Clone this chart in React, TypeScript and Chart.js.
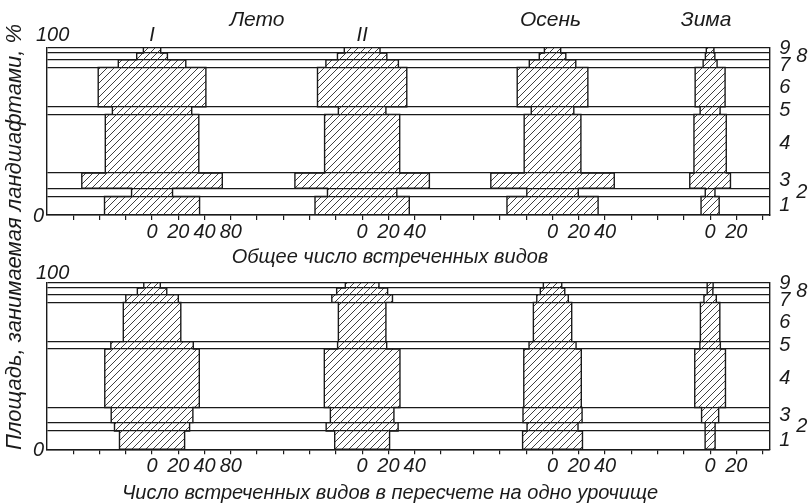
import React, { useEffect, useRef } from "react";
import { Chart, registerables } from "chart.js";

Chart.register(...registerables);

// ---------- data ----------
const bandNames = ["1", "2", "3", "4", "5", "6", "7", "8", "9"];
// share of area occupied by each landscape band, %
const bandShares = [11, 5, 9, 35, 4.5, 23.5, 4.6, 4, 3.4];

const seasonNames = ["I", "II", "Осень", "Зима"];
// axis value where each season's "0" tick sits
const seasonZero = [80, 240, 385, 505];

// total number of species met (top panel), bands 1..9
const totalI = [36.2, 15.6, 53.5, 35.6, 30.2, 41, 25.7, 11.7, 6.6];
const totalII = [35.9, 26.4, 51.2, 28.6, 18.1, 34, 27.6, 18.8, 13.6];
const totalAutumn = [34.7, 19.6, 47, 21.6, 16.2, 26.9, 17.7, 10.1, 6.2];
const totalWinter = [6.9, 3.7, 15.5, 12.3, 7.6, 11.4, 5.3, 3.6, 2.9];

// species per one urochishche (bottom panel), bands 1..9
const perI = [24.8, 28.6, 31.1, 36, 31.4, 21.9, 20, 11.2, 6.3];
const perII = [20.9, 27.4, 24.2, 28.8, 18.7, 18.1, 23.1, 19.4, 12.8];
const perAutumn = [22.8, 19.4, 22.5, 21.9, 17.9, 14.6, 12, 9.3, 7];
const perWinter = [3.8, 3.8, 6.5, 11.7, 7.8, 7.4, 4.7, 2.1, 2.3];

const xTickValues = [
  20, 40, 60, 80, 100, 120, 140, 160, 180, 200, 220, 240, 260, 280, 300,
  325, 345, 365, 385, 405, 425, 445, 465, 485, 505, 525, 545,
];
const labeledTickValues = [80, 100, 120, 140, 240, 260, 280, 385, 405, 425, 505, 525];
const labeledTickTexts = ["0", "20", "40", "80", "0", "20", "40", "0", "20", "40", "0", "20"];

const seasonTitles = ["Лето", "Осень", "Зима"];
const yTitle = "Площадь, занимаемая ландшафтами, %";
const topXTitle = "Общее число встреченных видов";
const bottomXTitle = "Число встреченных видов в пересчете на одно урочище";

// ---------- helpers ----------
const W = 809;
const H = 504;
const FONT_FAMILY = '"Liberation Sans", Arial, sans-serif';
const TEXT_COLOR = "#1a1a1a";
const LINE_COLOR = "#1a1a1a";

const boundaries: number[] = bandShares.reduce(
  (acc: number[], s) => {
    acc.push(+(acc[acc.length - 1] + s).toFixed(3));
    return acc;
  },
  [0]
);

function outline(center: number, half: number[]) {
  const pts: { x: number; y: number }[] = [];
  for (let i = 0; i < half.length; i++) {
    pts.push({ x: center - half[i], y: boundaries[i] });
    pts.push({ x: center - half[i], y: boundaries[i + 1] });
  }
  for (let i = half.length - 1; i >= 0; i--) {
    pts.push({ x: center + half[i], y: boundaries[i + 1] });
    pts.push({ x: center + half[i], y: boundaries[i] });
  }
  pts.push({ ...pts[0] });
  return pts;
}

function makeHatch() {
  const s = 7;
  const c = document.createElement("canvas");
  c.width = s;
  c.height = s;
  const g = c.getContext("2d")!;
  g.strokeStyle = "#2a2a2a";
  g.lineWidth = 0.9;
  g.beginPath();
  g.moveTo(0, s);
  g.lineTo(s, 0);
  g.moveTo(-1, 1);
  g.lineTo(1, -1);
  g.moveTo(s - 1, s + 1);
  g.lineTo(s + 1, s - 1);
  g.stroke();
  return g.createPattern(c, "repeat")!;
}

function font(size = 20) {
  return `italic ${size}px ${FONT_FAMILY}`;
}

type PanelOpts = {
  series: number[][];
  top: number;
  bottom: number;
  hundredDy: number;
  xTitle: string;
  xTitleY: number;
  showSeasonTitles: boolean;
  showYTitle: boolean;
};

function buildChart(canvas: HTMLCanvasElement, p: PanelOpts) {
  const hatch = makeHatch();
  const X_AXIS_H = 30;
  const datasets = p.series.map((half, i) => ({
    label: seasonNames[i],
    data: outline(seasonZero[i], half),
    showLine: true,
    borderColor: LINE_COLOR,
    borderWidth: 1.4,
    backgroundColor: hatch,
    fill: "shape" as const,
    pointRadius: 0,
    tension: 0,
  }));

  const textPlugin = {
    id: "panelText",
    afterDraw(chart: any) {
      const ctx = chart.ctx;
      const xs = chart.scales.x;
      const ys = chart.scales.y;
      const area = chart.chartArea;
      ctx.save();
      ctx.fillStyle = TEXT_COLOR;
      ctx.font = font();
      ctx.textBaseline = "middle";

      // y end labels
      ctx.textAlign = "left";
      ctx.fillText("100", 36, ys.getPixelForValue(100) + p.hundredDy);
      ctx.textAlign = "right";
      ctx.fillText("0", 44, ys.getPixelForValue(0) + 1);

      // band numbers on the right
      ctx.textAlign = "left";
      bandNames.forEach((name, i) => {
        const mid = (boundaries[i] + boundaries[i + 1]) / 2;
        const shifted = name === "8" || name === "2";
        let dy = 0;
        if (name === "9") dy = -2;
        if (name === "7") dy = 2;
        ctx.fillText(name, area.right + (shifted ? 27 : 10), ys.getPixelForValue(mid) + dy);
      });

      // x title
      ctx.textAlign = "center";
      ctx.fillText(p.xTitle, 390, p.xTitleY);

      if (p.showSeasonTitles) {
        ctx.font = font(21);
        ctx.fillText(seasonTitles[0], xs.getPixelForValue((seasonZero[0] + seasonZero[1]) / 2), 20);
        ctx.fillText(seasonTitles[1], xs.getPixelForValue(seasonZero[2]) - 2, 20);
        ctx.fillText(seasonTitles[2], xs.getPixelForValue(seasonZero[3]) - 4, 20);
        ctx.font = font(20);
        ctx.fillText(seasonNames[0], xs.getPixelForValue(seasonZero[0]), 35);
        ctx.fillText(seasonNames[1], xs.getPixelForValue(seasonZero[1]), 35);
      }

      if (p.showYTitle) {
        ctx.font = font(22);
        ctx.translate(15, 237);
        ctx.rotate(-Math.PI / 2);
        ctx.textAlign = "center";
        ctx.fillText(yTitle, 0, 0);
      }
      ctx.restore();
    },
  };

  return new Chart(canvas, {
    type: "scatter",
    data: { datasets: datasets as any },
    plugins: [textPlugin],
    options: {
      animation: false,
      responsive: false,
      devicePixelRatio: 1,
      events: [],
      layout: {
        padding: { left: 47, right: W - 769.2, top: p.top, bottom: H - p.bottom - X_AXIS_H },
      },
      plugins: { legend: { display: false }, tooltip: { enabled: false } },
      scales: {
        x: {
          type: "linear",
          min: 0,
          max: 550,
          afterBuildTicks: (s: any) => {
            s.ticks = xTickValues.map((v) => ({ value: v }));
          },
          afterFit: (s: any) => {
            s.height = X_AXIS_H;
          },
          ticks: {
            autoSkip: false,
            maxRotation: 0,
            padding: 0,
            color: TEXT_COLOR,
            font: { family: FONT_FAMILY, size: 20, style: "italic" },
            callback: (v: any) => {
              const k = labeledTickValues.indexOf(Number(v));
              return k >= 0 ? labeledTickTexts[k] : "";
            },
          },
          grid: { drawOnChartArea: false, drawTicks: true, tickLength: 5, color: LINE_COLOR, lineWidth: 1.2 },
          border: { display: true, color: LINE_COLOR, width: 1.4 },
        },
        y: {
          type: "linear",
          min: 0,
          max: 100,
          afterBuildTicks: (s: any) => {
            s.ticks = boundaries.map((v) => ({ value: v }));
          },
          afterFit: (s: any) => {
            s.width = 0;
          },
          ticks: { display: false },
          grid: { drawTicks: false, color: LINE_COLOR, lineWidth: 1.3 },
          border: { display: true, color: LINE_COLOR, width: 1.4 },
        },
        yRight: {
          type: "linear",
          position: "right",
          min: 0,
          max: 100,
          afterFit: (s: any) => {
            s.width = 0;
          },
          ticks: { display: false },
          grid: { display: false, drawTicks: false },
          border: { display: true, color: LINE_COLOR, width: 1.4 },
        },
      },
    } as any,
  });
}

export default function App() {
  const topRef = useRef<HTMLCanvasElement>(null);
  const botRef = useRef<HTMLCanvasElement>(null);

  useEffect(() => {
    const c1 = buildChart(topRef.current!, {
      series: [totalI, totalII, totalAutumn, totalWinter],
      top: 47.3,
      bottom: 215,
      hundredDy: -12,
      xTitle: topXTitle,
      xTitleY: 257,
      showSeasonTitles: true,
      showYTitle: true,
    });
    const c2 = buildChart(botRef.current!, {
      series: [perI, perII, perAutumn, perWinter],
      top: 282.3,
      bottom: 449.3,
      hundredDy: -9,
      xTitle: bottomXTitle,
      xTitleY: 493,
      showSeasonTitles: false,
      showYTitle: false,
    });
    return () => {
      c1.destroy();
      c2.destroy();
    };
  }, []);

  const cs: React.CSSProperties = { position: "absolute", left: 0, top: 0, width: W, height: H };
  return (
    <div style={{ position: "fixed", left: 0, top: 0, width: W, height: H, background: "#fff" }}>
      <canvas ref={topRef} width={W} height={H} style={cs} />
      <canvas ref={botRef} width={W} height={H} style={cs} />
    </div>
  );
}
